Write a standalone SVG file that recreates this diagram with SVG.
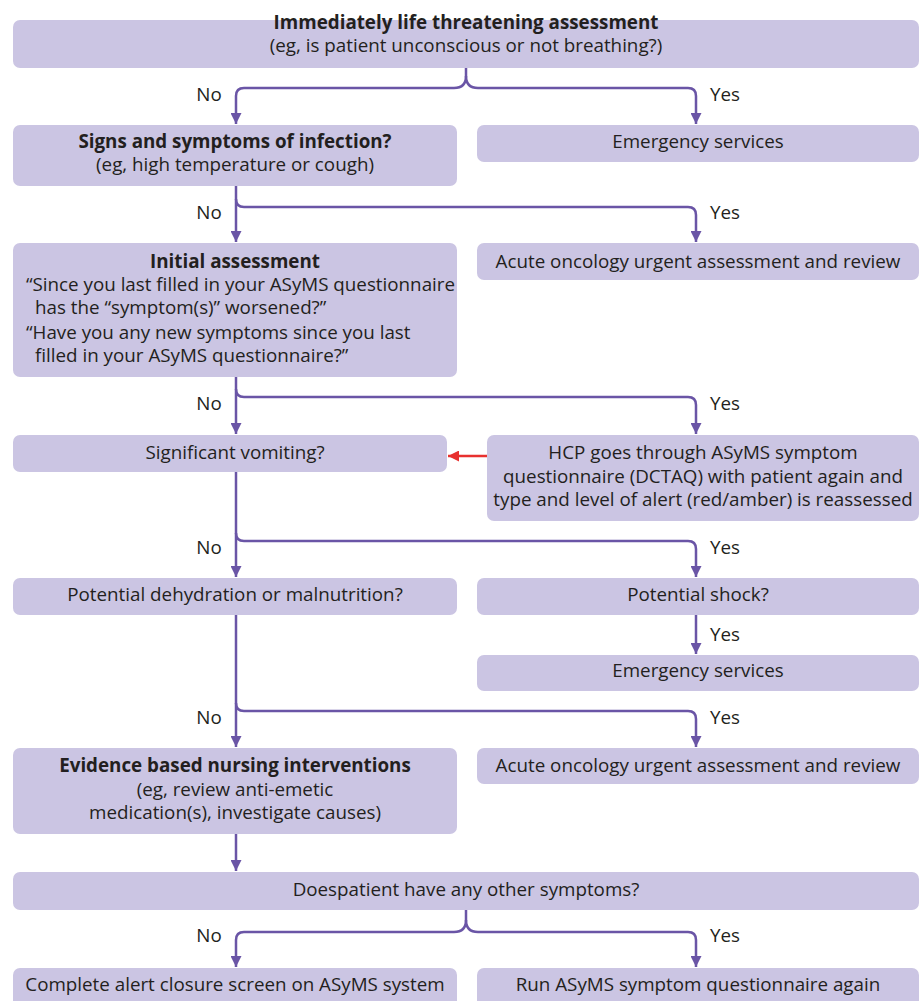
<svg xmlns="http://www.w3.org/2000/svg" width="919" height="1001" viewBox="0 0 919 1001">
<defs>
<style>
.box{fill:#cbc5e3}
text{font-family:"Open Sans","Liberation Sans",Arial,sans-serif;font-size:18.8px;fill:#231f20}
.c{text-anchor:middle}
.b{font-weight:bold}
.ln{fill:none;stroke:#6a55a6;stroke-width:2.5}
.red{fill:none;stroke:#e8312f;stroke-width:2.5}
</style>
<marker id="ah" viewBox="0 0 10 10" refX="10" refY="5" markerWidth="11" markerHeight="11" markerUnits="userSpaceOnUse" orient="auto">
<path d="M0,0 L10,5 L0,10 Z" fill="#6a55a6"/>
</marker>
<marker id="ahr" viewBox="0 0 10 10" refX="10" refY="5" markerWidth="11" markerHeight="11" markerUnits="userSpaceOnUse" orient="auto">
<path d="M0,0 L10,5 L0,10 Z" fill="#e8312f"/>
</marker>
</defs>
<rect width="919" height="1001" fill="#ffffff"/>

<g id="n1"><rect class="box" x="13" y="20" width="906" height="48" rx="7"/>
<text x="466" y="29" class="c b">Immediately life threatening assessment</text>
<text x="466" y="52" class="c">(eg, is patient unconscious or not breathing?)</text></g>

<g id="n2"><rect class="box" x="13" y="125" width="444" height="61" rx="7"/>
<text x="235" y="148" class="c b">Signs and symptoms of infection?</text>
<text x="235" y="171" class="c">(eg, high temperature or cough)</text></g>

<g id="n3"><rect class="box" x="477" y="125" width="442" height="37" rx="7"/>
<text x="698" y="148" class="c">Emergency services</text></g>

<g id="n4"><rect class="box" x="13" y="243" width="444" height="134" rx="7"/>
<text x="235" y="268" class="c b">Initial assessment</text>
<text x="26" y="291">“Since you last filled in your ASyMS questionnaire</text>
<text x="35" y="314">has the “symptom(s)” worsened?”</text>
<text x="26" y="339">“Have you any new symptoms since you last</text>
<text x="35" y="362">filled in your ASyMS questionnaire?”</text></g>

<g id="n5"><rect class="box" x="477" y="243" width="442" height="37" rx="7"/>
<text x="698" y="268" class="c">Acute oncology urgent assessment and review</text></g>

<g id="n6"><rect class="box" x="13" y="435" width="434" height="37" rx="7"/>
<text x="235" y="459" class="c">Significant vomiting?</text></g>

<g id="n7"><rect class="box" x="487" y="435" width="432" height="86" rx="7"/>
<text x="703" y="459" class="c">HCP goes through ASyMS symptom</text>
<text x="703" y="483" class="c">questionnaire (DCTAQ) with patient again and</text>
<text x="703" y="506" class="c">type and level of alert (red/amber) is reassessed</text></g>

<g id="n8"><rect class="box" x="13" y="578" width="444" height="37" rx="7"/>
<text x="235" y="601" class="c">Potential dehydration or malnutrition?</text></g>

<g id="n9"><rect class="box" x="477" y="578" width="442" height="37" rx="7"/>
<text x="698" y="601" class="c">Potential shock?</text></g>

<g id="n10"><rect class="box" x="477" y="655" width="442" height="36" rx="7"/>
<text x="698" y="677" class="c">Emergency services</text></g>

<g id="n11"><rect class="box" x="13" y="748" width="444" height="86" rx="7"/>
<text x="235" y="772" class="c b">Evidence based nursing interventions</text>
<text x="235" y="796" class="c">(eg, review anti-emetic</text>
<text x="235" y="819" class="c">medication(s), investigate causes)</text></g>

<g id="n12"><rect class="box" x="477" y="748" width="442" height="36" rx="7"/>
<text x="698" y="772" class="c">Acute oncology urgent assessment and review</text></g>

<g id="n13"><rect class="box" x="13" y="872" width="906" height="38" rx="7"/>
<text x="466" y="896" class="c">Doespatient have any other symptoms?</text></g>

<g id="n14"><rect class="box" x="13" y="968" width="444" height="40" rx="7"/>
<text x="235" y="991" class="c">Complete alert closure screen on ASyMS system</text></g>

<g id="n15"><rect class="box" x="477" y="968" width="442" height="40" rx="7"/>
<text x="698" y="991" class="c">Run ASyMS symptom questionnaire again</text></g>

<g id="connectors">
<path class="ln" d="M466,68 V76 Q466,88 454,88 H244 Q236,88 236,96 V124" marker-end="url(#ah)"/>
<path class="ln" d="M466,76 Q466,88 478,88 H688 Q696,88 696,96 V124" marker-end="url(#ah)"/>
<path class="ln" d="M236,186 V242" marker-end="url(#ah)"/>
<path class="ln" d="M236,199 Q236,207 244,207 H688 Q696,207 696,215 V242" marker-end="url(#ah)"/>
<path class="ln" d="M236,377 V434" marker-end="url(#ah)"/>
<path class="ln" d="M236,389 Q236,397 244,397 H688 Q696,397 696,405 V434" marker-end="url(#ah)"/>
<path class="ln" d="M236,472 V577" marker-end="url(#ah)"/>
<path class="ln" d="M236,533 Q236,541 244,541 H688 Q696,541 696,549 V577" marker-end="url(#ah)"/>
<path class="ln" d="M696,615 V654" marker-end="url(#ah)"/>
<path class="ln" d="M236,615 V747" marker-end="url(#ah)"/>
<path class="ln" d="M236,703 Q236,711 244,711 H688 Q696,711 696,719 V747" marker-end="url(#ah)"/>
<path class="ln" d="M236,834 V871" marker-end="url(#ah)"/>
<path class="ln" d="M466,910 V920 Q466,932 454,932 H244 Q236,932 236,940 V967" marker-end="url(#ah)"/>
<path class="ln" d="M466,920 Q466,932 478,932 H688 Q696,932 696,940 V967" marker-end="url(#ah)"/>
<path class="red" d="M487,456 H448" marker-end="url(#ahr)"/>
<text x="209" y="101" class="c">No</text>
<text x="710" y="101">Yes</text>
<text x="209" y="219" class="c">No</text>
<text x="710" y="219">Yes</text>
<text x="209" y="410" class="c">No</text>
<text x="710" y="410">Yes</text>
<text x="209" y="554" class="c">No</text>
<text x="710" y="554">Yes</text>
<text x="710" y="641">Yes</text>
<text x="209" y="724" class="c">No</text>
<text x="710" y="724">Yes</text>
<text x="209" y="942" class="c">No</text>
<text x="710" y="942">Yes</text>
</g>
</svg>
